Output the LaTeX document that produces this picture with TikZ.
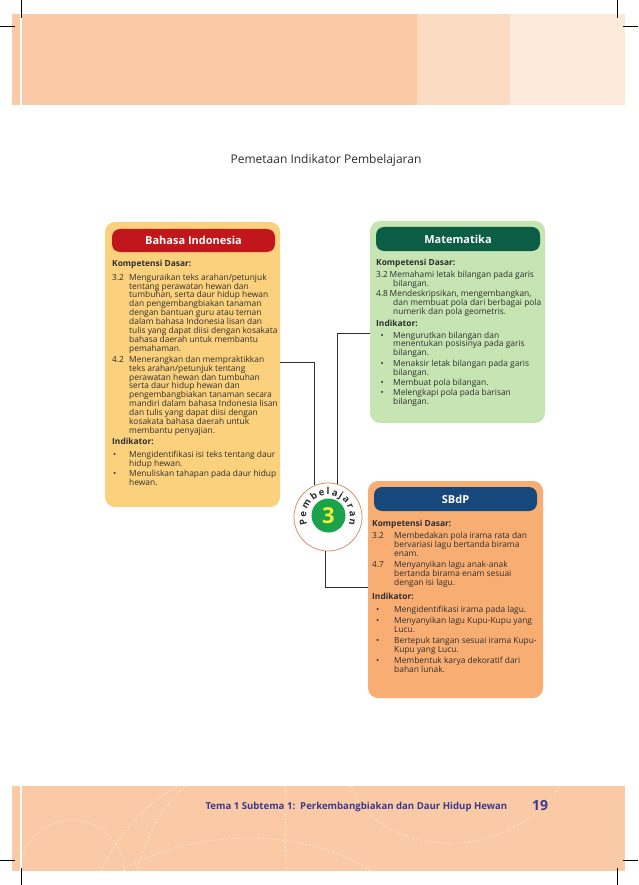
\documentclass[tikz,border=0pt]{standalone}
\usepackage{fontspec}
\setmainfont{Open Sans}
\usetikzlibrary{decorations.text}
\definecolor{bandA}{HTML}{FAC9A6}
\definecolor{bandB}{HTML}{FBDCC3}
\definecolor{bandC}{HTML}{FCE9DA}
\definecolor{biyel}{HTML}{FCD17E}
\definecolor{bired}{HTML}{C1161C}
\definecolor{magreen}{HTML}{C6E5B3}
\definecolor{madark}{HTML}{0C5D45}
\definecolor{sborange}{HTML}{F8AD73}
\definecolor{sbblue}{HTML}{17487B}
\definecolor{txt}{HTML}{2E2E2E}
\definecolor{circline}{HTML}{D4946B}
\definecolor{numgreen}{HTML}{1BA34B}
\definecolor{numyellow}{HTML}{F3EE3A}
\definecolor{foottxt}{HTML}{3C3A8E}
\newcommand\kdnum[2]{\makebox[#1][l]{#2}}
\newcommand\kdbul[2]{\hspace*{#1}\makebox[#2][l]{\textbullet}}
\newcommand\kdind[1]{\hspace*{#1}}
\begin{document}
\begin{tikzpicture}[x=1pt,y=-1pt,
  box/.style={rounded corners=10pt, inner sep=0pt, minimum width=175pt},
  pill/.style={rounded corners=8pt, inner sep=0pt, text=white, font=\fontsize{11}{12}\selectfont\bfseries},
  body/.style={anchor=north west, align=left, inner sep=0pt, text=txt, font=\fontsize{8.4}{8.9}\selectfont},
  conn/.style={draw=txt, line width=0.7pt},
  deco/.style={draw=white, opacity=0.5, line width=0.8pt, dash pattern=on 2pt off 2pt},
  crop/.style={draw=black, line width=0.5pt}]
\useasboundingbox (0,0) rectangle (638,885);
\fill[white] (0,0) rectangle (638,885);
% header band
\fill[bandA] (12,14) rectangle (417,105);
\fill[bandB] (417,14) rectangle (510,105);
\fill[bandC] (510,14) rectangle (625,105);
\draw[white, line width=1.5pt] (21,14) -- (21,105);
% footer band
\fill[bandA] (12,786) rectangle (625,871);
\begin{scope}
\clip (12,786) rectangle (625,871);
\draw[deco] (72,872) circle[radius=52];
\draw[deco] (100,872) .. controls (120,830) and (150,800) .. (178,786);
\draw[deco] (137,872) .. controls (145,840) and (160,805) .. (186,786);
\draw[deco] (285,786) .. controls (288,815) and (283,845) .. (287,872);
\draw[deco] (120,872) .. controls (180,832) and (300,822) .. (372,872);
\draw[deco] (350,786) .. controls (375,852) and (500,872) .. (560,786);
\end{scope}
\draw[white, line width=1.5pt] (21,786) -- (21,871);
% crop marks
\draw[crop] (21,0) -- (21,18);
\draw[crop] (0,26) -- (15,26);
\draw[crop] (617,0) -- (617,18);
\draw[crop] (623,26) -- (638,26);
\draw[crop] (0,860) -- (15,860);
\draw[crop] (21,868) -- (21,885);
\draw[crop] (623,860) -- (638,860);
\draw[crop] (617,868) -- (617,885);
% title
\node[text=txt, font=\fontsize{12}{14}\selectfont] (title) at (326,160) {Pemetaan Indikator Pembelajaran};
% boxes
\node[box, fill=biyel, minimum height=285pt] (bi) at (192.5,364.5) {};
\node[box, fill=magreen, minimum height=202pt] (ma) at (457.5,322) {};
\node[box, fill=sborange, minimum height=217pt] (sb) at (455.5,589.5) {};
% header pills
\node[pill, fill=bired, minimum width=163pt, minimum height=23pt] (bih) at (193.5,240.5) {Bahasa Indonesia};
\node[pill, fill=madark, minimum width=164pt, minimum height=24pt] (mah) at (458,239) {Matematika};
\node[pill, fill=sbblue, minimum width=163pt, minimum height=24pt] (sbh) at (455.5,499) {SBdP};
% Bahasa Indonesia text
\node[body] (bitxt) at (112,260.2) {%
\textbf{Kompetensi Dasar:}\\[4.5pt]
\kdnum{17pt}{3.2}Menguraikan teks arahan/petunjuk\\
\kdind{17pt}tentang perawatan hewan dan\\
\kdind{17pt}tumbuhan, serta daur hidup hewan\\
\kdind{17pt}dan pengembangbiakan tanaman\\
\kdind{17pt}dengan bantuan guru atau teman\\
\kdind{17pt}dalam bahasa Indonesia lisan dan\\
\kdind{17pt}tulis yang dapat diisi dengan kosakata\\
\kdind{17pt}bahasa daerah untuk membantu\\
\kdind{17pt}pemahaman.\\[2pt]
\kdnum{17pt}{4.2}Menerangkan dan mempraktikkan\\
\kdind{17pt}teks arahan/petunjuk tentang\\
\kdind{17pt}perawatan hewan dan tumbuhan\\
\kdind{17pt}serta daur hidup hewan dan\\
\kdind{17pt}pengembangbiakan tanaman secara\\
\kdind{17pt}mandiri dalam bahasa Indonesia lisan\\
\kdind{17pt}dan tulis yang dapat diisi dengan\\
\kdind{17pt}kosakata bahasa daerah untuk\\
\kdind{17pt}membantu penyajian.\\[2pt]
\textbf{Indikator:}\\[4pt]
\kdbul{1pt}{16pt}Mengidentifikasi isi teks tentang daur\\
\kdind{17pt}hidup hewan.\\[1.5pt]
\kdbul{1pt}{16pt}Menuliskan tahapan pada daur hidup\\
\kdind{17pt}hewan.};
% Matematika text
\node[body] (matxt) at (376,259.2) {%
\textbf{Kompetensi Dasar:}\\[2.5pt]
\kdnum{13.5pt}{3.2}Memahami letak bilangan pada garis\\
\kdind{17pt}bilangan.\\[2pt]
\kdnum{13.5pt}{4.8}Mendeskripsikan, mengembangkan,\\
\kdind{17pt}dan membuat pola dari berbagai pola\\
\kdind{17pt}numerik dan pola geometris.\\[3pt]
\textbf{Indikator:}\\[2.5pt]
\kdbul{4.5pt}{12.5pt}Mengurutkan bilangan dan\\
\kdind{17pt}menentukan posisinya pada garis\\
\kdind{17pt}bilangan.\\[1.5pt]
\kdbul{4.5pt}{12.5pt}Menaksir letak bilangan  pada garis\\
\kdind{17pt}bilangan.\\[1.5pt]
\kdbul{4.5pt}{12.5pt}Membuat pola bilangan.\\[1.5pt]
\kdbul{4.5pt}{12.5pt}Melengkapi pola pada barisan\\
\kdind{17pt}bilangan.};
% SBdP text
\node[body] (sbtxt) at (372,520.2) {%
\textbf{Kompetensi Dasar:}\\[3pt]
\kdnum{22pt}{3.2}Membedakan pola irama rata dan\\
\kdind{22pt}bervariasi lagu bertanda birama\\
\kdind{22pt}enam.\\[2pt]
\kdnum{22pt}{4.7}Menyanyikan lagu anak-anak\\
\kdind{22pt}bertanda birama enam sesuai\\
\kdind{22pt}dengan isi lagu.\\[5pt]
\textbf{Indikator:}\\[5pt]
\kdbul{4pt}{18pt}Mengidentifikasi irama pada lagu.\\[2pt]
\kdbul{4pt}{18pt}Menyanyikan lagu Kupu-Kupu yang\\
\kdind{22pt}Lucu.\\[2pt]
\kdbul{4pt}{18pt}Bertepuk tangan sesuai irama Kupu-\\
\kdind{22pt}Kupu yang Lucu.\\[2pt]
\kdbul{4pt}{18pt}Membentuk karya dekoratif dari\\
\kdind{22pt}bahan lunak.};
% central circle
\node[circle, draw=circline, fill=white, line width=0.8pt, minimum size=68pt, inner sep=0pt] (circ) at (328,517) {};
% connectors
\draw[conn] ([yshift=2.5pt]bi.east) -| (circ.113);
\draw[conn] (circ.75) |- ([yshift=-11pt]ma.west);
\draw[conn] (circ.266) |- ([yshift=2.5pt]sb.west);
\node[circle, fill=numgreen, minimum size=34pt, inner sep=0pt, text=numyellow, font=\fontsize{22}{22}\selectfont\bfseries] (num) at (328.5,515.5) {3};
\begin{scope}[shift={(circ.center)}, x=1pt, y=1pt]
\path[decorate, decoration={text along path, text={|\fontsize{9.5}{11}\selectfont\bfseries\color{txt}|Pembelajaran}, text align={fit to path}}]
  (200:22) arc[start angle=200, end angle=-20, radius=22];
\end{scope}
% footer text
\node[anchor=west, text=foottxt, font=\fontsize{9.6}{11}\selectfont\bfseries] (foot) at (202,807) {Tema 1 Subtema 1:\ \ Perkembangbiakan dan Daur Hidup Hewan};
\node[text=foottxt, font=\fontsize{14}{16}\selectfont\bfseries] (page) at (540,806) {19};
\end{tikzpicture}
\end{document}
